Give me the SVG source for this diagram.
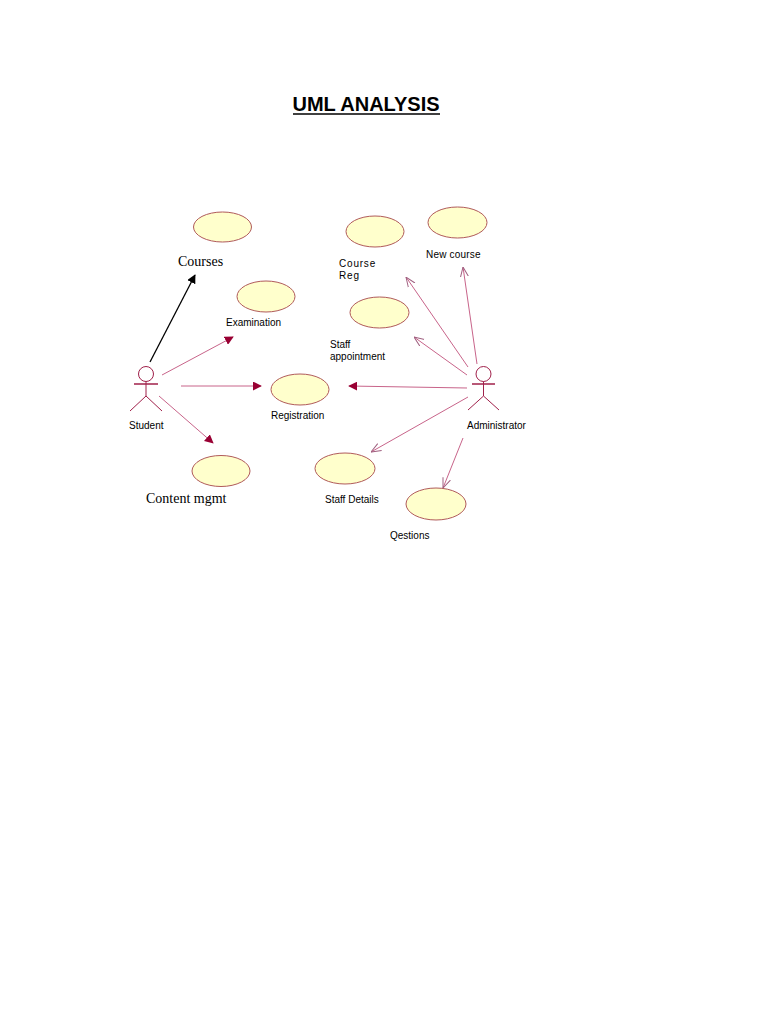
<svg xmlns="http://www.w3.org/2000/svg" width="768" height="1024" viewBox="0 0 768 1024">
<style>
.uc{fill:#ffffcc;stroke:#b05a5a;stroke-width:1}
.lbl{font-family:"Liberation Sans",Arial,sans-serif;font-size:10px;fill:#000}
.ser{font-family:"Liberation Serif","Times New Roman",serif;font-size:14px;fill:#000}
.act{fill:none;stroke:#a0204a;stroke-width:1}
.ln{fill:none;stroke:#c8648a;stroke-width:1}
</style>
<defs>
<marker id="fill" viewBox="0 0 10 10" refX="9" refY="5" markerWidth="9" markerHeight="9" markerUnits="userSpaceOnUse" orient="auto">
<path d="M0,0 L10,5 L0,10 Z" fill="#990033"/>
</marker>
<marker id="blk" viewBox="0 0 10 10" refX="9" refY="5" markerWidth="9" markerHeight="9" markerUnits="userSpaceOnUse" orient="auto">
<path d="M0,0 L10,5 L0,10 Z" fill="#000"/>
</marker>
<marker id="open" viewBox="0 0 10 10" refX="10" refY="5" markerWidth="10" markerHeight="10" markerUnits="userSpaceOnUse" orient="auto">
<path d="M0,1 L10,5 L0,9" fill="none" stroke="#a06080" stroke-width="1"/>
</marker>
</defs>
<rect width="768" height="1024" fill="#fff"/>
<g id="title">
<text x="366" y="111" text-anchor="middle" font-family="Liberation Sans,Arial,sans-serif" font-size="20" font-weight="bold" fill="#000">UML ANALYSIS</text>
<line x1="293" y1="114" x2="440" y2="114" stroke="#000" stroke-width="1.5"/>
</g>
<g id="connectors">
<line x1="150" y1="362" x2="195" y2="275" stroke="#000" stroke-width="1.3" marker-end="url(#blk)"/>
<line class="ln" x1="162" y1="375" x2="233" y2="337" marker-end="url(#fill)"/>
<line class="ln" x1="181" y1="386" x2="261" y2="386" marker-end="url(#fill)"/>
<line class="ln" x1="159" y1="396" x2="213" y2="443" marker-end="url(#fill)"/>
<line class="ln" x1="467" y1="388" x2="349" y2="386" marker-end="url(#fill)"/>
<line class="ln" x1="468" y1="367" x2="406" y2="277" marker-end="url(#open)"/>
<line class="ln" x1="477" y1="364" x2="463" y2="267" marker-end="url(#open)"/>
<line class="ln" x1="467" y1="375" x2="414" y2="337" marker-end="url(#open)"/>
<line class="ln" x1="468" y1="397" x2="371" y2="452" marker-end="url(#open)"/>
<line class="ln" x1="463" y1="438" x2="443" y2="488" marker-end="url(#open)"/>
</g>
<g id="courses">
<ellipse class="uc" cx="222.5" cy="227" rx="29" ry="15"/>
<text class="ser" x="178" y="266">Courses</text>
</g>
<g id="examination">
<ellipse class="uc" cx="266" cy="296.5" rx="29" ry="15.5"/>
<text class="lbl" x="226" y="326">Examination</text>
</g>
<g id="registration">
<ellipse class="uc" cx="300" cy="389.5" rx="29" ry="15.5"/>
<text class="lbl" x="271" y="419">Registration</text>
</g>
<g id="content-mgmt">
<ellipse class="uc" cx="221" cy="471" rx="29" ry="15.5"/>
<text class="ser" x="146" y="503" font-size="13">Content mgmt</text>
</g>
<g id="course-reg">
<ellipse class="uc" cx="375" cy="231.5" rx="29" ry="15.5"/>
<text class="lbl" x="339" y="267" letter-spacing="0.8">Course</text>
<text class="lbl" x="339" y="279" letter-spacing="0.8">Reg</text>
</g>
<g id="new-course">
<ellipse class="uc" cx="457.5" cy="222.5" rx="29.5" ry="15.5"/>
<text class="lbl" x="426" y="258" letter-spacing="0.2">New course</text>
</g>
<g id="staff-appointment">
<ellipse class="uc" cx="379.5" cy="312.5" rx="29.5" ry="15.5"/>
<text class="lbl" x="330" y="348">Staff</text>
<text class="lbl" x="330" y="360">appointment</text>
</g>
<g id="staff-details">
<ellipse class="uc" cx="345" cy="468.5" rx="30" ry="15.5"/>
<text class="lbl" x="325" y="503">Staff Details</text>
</g>
<g id="qestions">
<ellipse class="uc" cx="436" cy="504" rx="30" ry="16"/>
<text class="lbl" x="390" y="539">Qestions</text>
</g>
<g id="student">
<circle class="act" cx="146" cy="374" r="7.5"/>
<line class="act" x1="146" y1="381.5" x2="146" y2="396"/>
<line x1="134" y1="384" x2="158" y2="384" stroke="#a0204a" stroke-width="1.5"/>
<line class="act" x1="146" y1="396" x2="130" y2="411"/>
<line class="act" x1="146" y1="396" x2="162" y2="411"/>
<text class="lbl" x="129" y="429">Student</text>
</g>
<g id="administrator">
<circle class="act" cx="483.5" cy="374" r="7.5"/>
<line class="act" x1="483.5" y1="381.5" x2="483.5" y2="396"/>
<line x1="472" y1="384" x2="495" y2="384" stroke="#a0204a" stroke-width="1.5"/>
<line class="act" x1="483.5" y1="396" x2="468" y2="410"/>
<line class="act" x1="483.5" y1="396" x2="499" y2="410"/>
<text class="lbl" x="467" y="429">Administrator</text>
</g>
</svg>
